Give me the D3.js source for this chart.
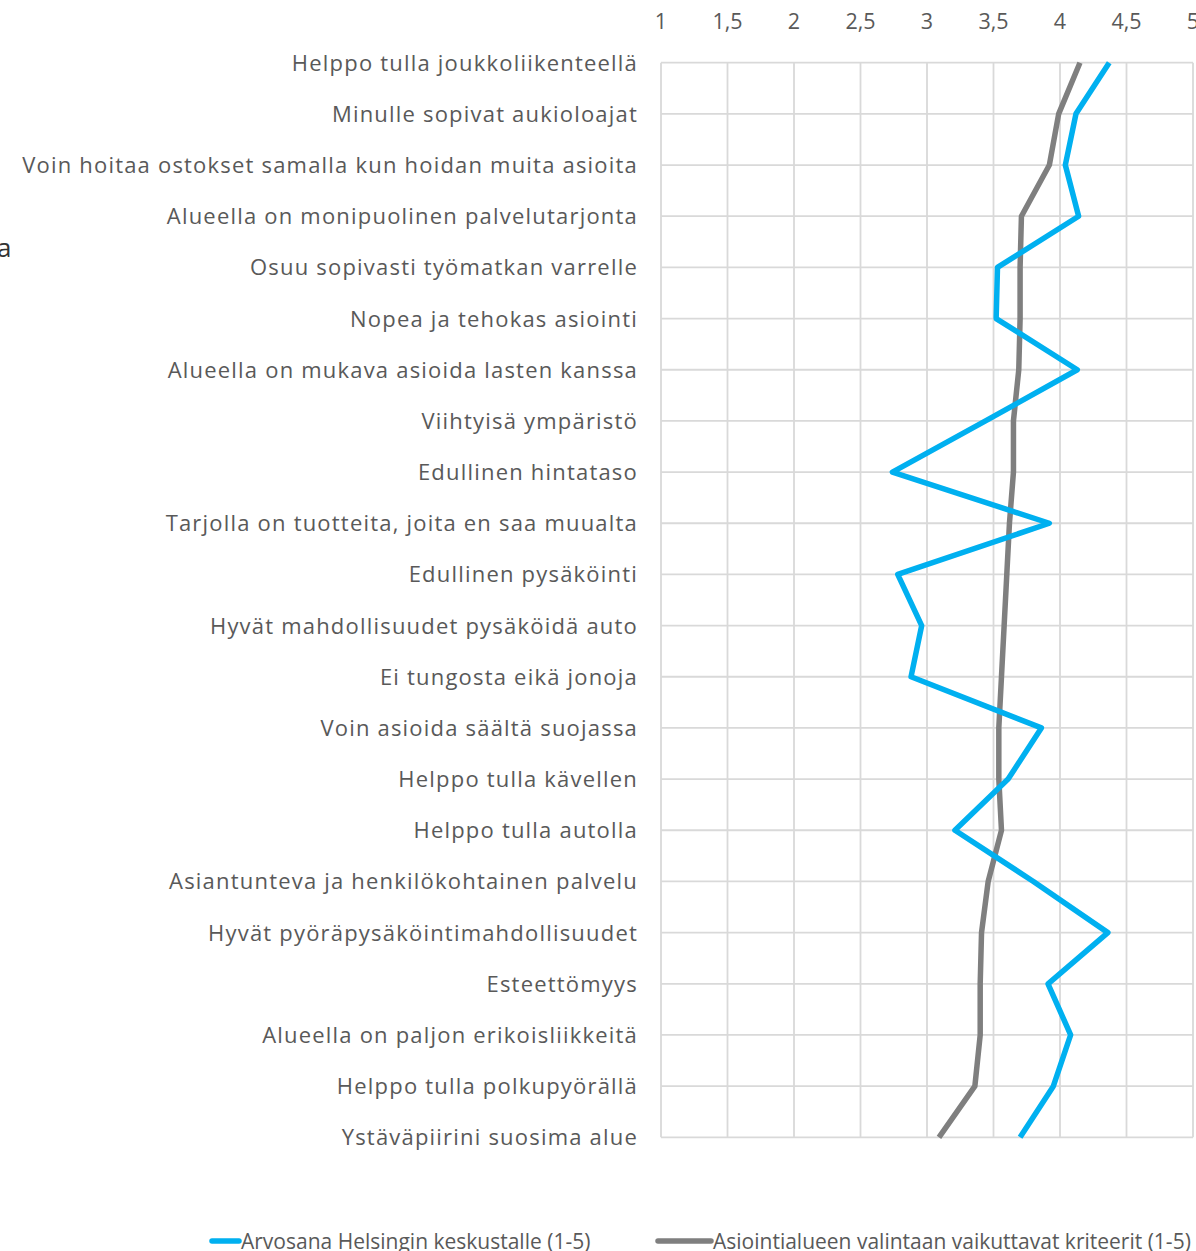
<!DOCTYPE html>
<html><head><meta charset="utf-8">
<script src="https://cdn.jsdelivr.net/npm/d3@7/dist/d3.min.js"></script>
<style>
html,body{margin:0;padding:0;background:#fff;overflow:hidden;}
svg{display:block;}
text{font-family:"Open Sans",sans-serif;fill:#595959;}
</style></head>
<body>
<script>
const categories = [
"Helppo tulla joukkoliikenteellä",
"Minulle sopivat aukioloajat",
"Voin hoitaa ostokset samalla kun hoidan muita asioita",
"Alueella on monipuolinen palvelutarjonta",
"Osuu sopivasti työmatkan varrelle",
"Nopea ja tehokas asiointi",
"Alueella on mukava asioida lasten kanssa",
"Viihtyisä ympäristö",
"Edullinen hintataso",
"Tarjolla on tuotteita, joita en saa muualta",
"Edullinen pysäköinti",
"Hyvät mahdollisuudet pysäköidä auto",
"Ei tungosta eikä jonoja",
"Voin asioida säältä suojassa",
"Helppo tulla kävellen",
"Helppo tulla autolla",
"Asiantunteva ja henkilökohtainen palvelu",
"Hyvät pyöräpysäköintimahdollisuudet",
"Esteettömyys",
"Alueella on paljon erikoisliikkeitä",
"Helppo tulla polkupyörällä",
"Ystäväpiirini suosima alue"
];
const seriesNames = ["Arvosana Helsingin keskustalle (1-5)", "Asiointialueen valintaan vaikuttavat kriteerit (1-5)"];
const arvosana = [4.37,4.12,4.04,4.14,3.53,3.52,4.13,3.44,2.74,3.92,2.78,2.96,2.88,3.86,3.61,3.21,3.80,4.36,3.91,4.08,3.95,3.70];
const kriteerit = [4.15,3.99,3.92,3.71,3.70,3.70,3.69,3.65,3.65,3.62,3.60,3.58,3.56,3.54,3.54,3.56,3.46,3.41,3.40,3.40,3.36,3.09];
const tickValues = [1,1.5,2,2.5,3,3.5,4,4.5,5];
const tickLabels = ["1","1,5","2","2,5","3","3,5","4","4,5","5"];

const W = 1196, H = 1251;
const svg = d3.select("body").append("svg").attr("width", W).attr("height", H);

const x = d3.scaleLinear().domain([1,5]).range([661, 1193]);
const y = d3.scalePoint().domain(categories).range([62.7, 1137.3]);

// grid
const g = svg.append("g");
g.selectAll("line.v").data(tickValues).join("line")
  .attr("x1", d => x(d)).attr("x2", d => x(d))
  .attr("y1", y.range()[0]).attr("y2", y.range()[1])
  .attr("stroke", "#d9d9d9").attr("stroke-width", 1.8);
g.selectAll("line.h").data(categories).join("line")
  .attr("x1", x(1)).attr("x2", x(5))
  .attr("y1", d => y(d)).attr("y2", d => y(d))
  .attr("stroke", "#d9d9d9").attr("stroke-width", 1.8);

// top axis labels
svg.append("g").selectAll("text").data(tickValues).join("text")
  .attr("x", d => x(d)).attr("y", 29)
  .attr("text-anchor", "middle")
  .style("font-size", "21.5px")
  .text((d,i) => tickLabels[i]);

// category labels
svg.append("g").selectAll("text").data(categories).join("text")
  .attr("x", 638).attr("y", d => y(d) + 8)
  .attr("text-anchor", "end")
  .style("font-size", "22px")
  .style("letter-spacing", "1.2px")
  .text(d => d);

// lines
const line = d3.line().x(d => x(d.v)).y(d => y(d.c));
const mk = arr => arr.map((v,i) => ({v, c: categories[i]}));
svg.append("path").datum(mk(kriteerit)).attr("d", line)
  .attr("fill","none").attr("stroke","#7f7f7f").attr("stroke-width",5.5).attr("stroke-linejoin","round");
svg.append("path").datum(mk(arvosana)).attr("d", line)
  .attr("fill","none").attr("stroke","#00b0f0").attr("stroke-width",5.5).attr("stroke-linejoin","round");

// legend
const leg = [
  {name: seriesNames[0], color: "#00b0f0", x1: 212, x2: 239},
  {name: seriesNames[1], color: "#7f7f7f", x1: 658, x2: 711}
];
const lg = svg.append("g");
lg.selectAll("line").data(leg).join("line")
  .attr("x1", d => d.x1).attr("x2", d => d.x2).attr("y1", 1241).attr("y2", 1241)
  .attr("stroke", d => d.color).attr("stroke-width", 5.5).attr("stroke-linecap","round");
lg.selectAll("text").data(leg).join("text")
  .attr("x", d => d.x2 + 2).attr("y", 1249)
  .style("font-size", "21px")
  .text(d => d.name);

// cropped fragment at left edge
svg.append("text").attr("x", -3).attr("y", 257).style("font-size","26px").style("fill","#333").text("a");
</script>
</body></html>
